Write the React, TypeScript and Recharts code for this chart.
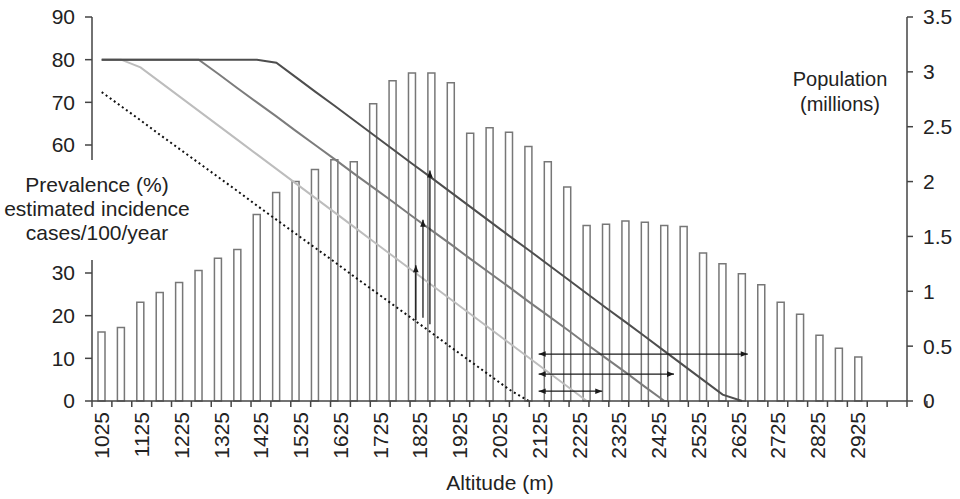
import React from "react";
import {
  ComposedChart,
  Bar,
  Line,
  XAxis,
  YAxis,
  ReferenceLine,
} from "recharts";

// altitude classes (m), 50 m wide
const altitudes = [
  1025, 1075, 1125, 1175, 1225, 1275, 1325, 1375, 1425, 1475, 1525, 1575,
  1625, 1675, 1725, 1775, 1825, 1875, 1925, 1975, 2025, 2075, 2125, 2175,
  2225, 2275, 2325, 2375, 2425, 2475, 2525, 2575, 2625, 2675, 2725, 2775,
  2825, 2875, 2925, 2975, 3025, 3075,
];

// labels printed under the axis
const tickLabels = [
  1025, 1125, 1225, 1325, 1425, 1525, 1625, 1725, 1825, 1925, 2025, 2125,
  2225, 2325, 2425, 2525, 2625, 2725, 2825, 2925,
];

// population in millions (bars, right axis)
const population = [
  0.63, 0.67, 0.9, 0.99, 1.08, 1.19, 1.3, 1.38, 1.7, 1.9, 2.0, 2.11, 2.2, 2.18,
  2.71, 2.92, 2.99, 2.99, 2.9, 2.44, 2.49, 2.45, 2.32, 2.18, 1.95, 1.6, 1.61,
  1.64, 1.63, 1.6, 1.59, 1.35, 1.25, 1.16, 1.06, 0.9, 0.79, 0.6, 0.48, 0.4,
  null, null,
];

// prevalence curves (left axis)
const darkLine = [
  80, 80, 80, 80, 80, 80, 80, 80, 80, 79.3, 75.9, 72.5, 69.2, 65.8, 62.4, 59.0,
  55.6, 52.3, 48.9, 45.5, 42.1, 38.7, 35.4, 32.0, 28.6, 25.2, 21.8, 18.5, 15.1,
  11.7, 8.3, 4.9, 1.5, 0, null, null, null, null, null, null, null, null,
];
const midLine = [
  80, 80, 80, 80, 80, 80, 76.7, 73.3, 70.0, 66.7, 63.3, 60.0, 56.7, 53.3, 50.0,
  46.7, 43.3, 40.0, 36.7, 33.3, 30.0, 26.7, 23.3, 20.0, 16.7, 13.3, 10.0, 6.7,
  3.3, 0, null, null, null, null, null, null, null, null, null, null, null,
  null,
];
const lightLine = [
  80, 80, 78.2, 74.8, 71.4, 68.0, 64.6, 61.2, 57.8, 54.4, 51.0, 47.6, 44.2,
  40.8, 37.4, 34.0, 30.6, 27.2, 23.8, 20.4, 17.0, 13.6, 10.2, 6.8, 3.4, 0,
  null, null, null, null, null, null, null, null, null, null, null, null, null,
  null, null, null,
];
// estimated incidence (dotted)
const incidence = [
  72.4, 69.1, 65.8, 62.4, 59.1, 55.8, 52.5, 49.2, 45.8, 42.5, 39.2, 35.9, 32.6,
  29.2, 25.9, 22.6, 19.3, 16.0, 12.6, 9.3, 6.0, 2.7, 0, null, null, null, null,
  null, null, null, null, null, null, null, null, null, null, null, null, null,
  null, null,
];

const leftTicks = [0, 10, 20, 30, 60, 70, 80, 90];
const rightTicks = [0, 0.5, 1, 1.5, 2, 2.5, 3, 3.5];

// arrows, in class units along x (0..42) and prevalence units along y
const upArrows = [
  { x: 16.29, from: 19.0, to: 31.8 },
  { x: 16.65, from: 19.5, to: 42.5 },
  { x: 17.0, from: 18.0, to: 54.0 },
];
const spanArrows = [
  { y: 11.0, from: 22.47, to: 32.99 },
  { y: 6.3, from: 22.47, to: 29.28 },
  { y: 2.3, from: 22.47, to: 25.67 },
];

const data = altitudes.map((alt, i) => ({
  alt,
  pop: population[i],
  dark: darkLine[i],
  mid: midLine[i],
  light: lightLine[i],
  inc: incidence[i],
}));

const boundaryTicks = altitudes.map((_, i) => i).concat(altitudes.length);
const labelTicks = tickLabels.map((t) => altitudes.indexOf(t) + 0.5);
const gridTicks = [...boundaryTicks, ...labelTicks].sort((a, b) => a - b);

const AXIS = "#444";
const TEXT = "#222";
const TICK_FONT = 21;

function AltitudeTick(props: any) {
  const { x, y, payload } = props;
  const v = Number(payload?.value);
  if (!Number.isFinite(v) || v < 0 || v > altitudes.length) return null;
  if (Number.isInteger(v)) {
    return (
      <line x1={x} y1={y} x2={x} y2={y + 6} stroke={AXIS} strokeWidth={1.5} />
    );
  }
  const ty = y + 11;
  return (
    <text
      x={x}
      y={ty}
      transform={`rotate(-90 ${x} ${ty})`}
      textAnchor="end"
      dominantBaseline="central"
      fontSize={TICK_FONT}
      fill={TEXT}
    >
      {altitudes[Math.floor(v)]}
    </text>
  );
}

function arrowShape(twoHeads: boolean) {
  return (props: any) => {
    const { x1, y1, x2, y2 } = props;
    const head = (tx: number, ty: number, fx: number, fy: number) => {
      const a = Math.atan2(ty - fy, tx - fx);
      const len = 7;
      const half = 2.8;
      const bx = tx - len * Math.cos(a);
      const by = ty - len * Math.sin(a);
      const px = -Math.sin(a) * half;
      const py = Math.cos(a) * half;
      return (
        <polygon
          points={`${tx},${ty} ${bx + px},${by + py} ${bx - px},${by - py}`}
          fill="#1a1a1a"
        />
      );
    };
    return (
      <g>
        <line x1={x1} y1={y1} x2={x2} y2={y2} stroke="#1a1a1a" strokeWidth={1.3} />
        {head(x2, y2, x1, y1)}
        {twoHeads && head(x1, y1, x2, y2)}
      </g>
    );
  };
}

export default function App() {
  return (
    <div
      style={{
        position: "absolute",
        left: 0,
        top: 0,
        width: 960,
        height: 499,
        background: "#fff",
        fontFamily: '"Liberation Sans", Arial, sans-serif',
        color: TEXT,
      }}
    >
      <ComposedChart
        width={960}
        height={499}
        data={data}
        margin={{ top: 17, right: 0, bottom: 0, left: 0 }}
      >
        <XAxis
          xAxisId="grid"
          type="number"
          domain={[0, altitudes.length]}
          allowDataOverflow
          ticks={gridTicks}
          interval={0}
          height={98}
          tickLine={false}
          tickSize={0}
          tickMargin={0}
          axisLine={{ stroke: AXIS, strokeWidth: 1.5 }}
          tick={<AltitudeTick />}
        />
        <XAxis xAxisId="cat" dataKey="alt" hide height={0} />
        <YAxis
          yAxisId="left"
          width={92}
          domain={[0, 90]}
          ticks={leftTicks}
          interval={0}
          tickSize={7}
          tickMargin={10}
          axisLine={{ stroke: AXIS, strokeWidth: 1.5, strokeDasharray: "143 100 300" }}
          tickLine={{ stroke: AXIS, strokeWidth: 1.5 }}
          tick={{ fontSize: TICK_FONT, fill: TEXT }}
        />
        <YAxis
          yAxisId="right"
          orientation="right"
          width={53}
          domain={[0, 3.5]}
          ticks={rightTicks}
          interval={0}
          tickSize={6}
          tickMargin={10}
          axisLine={{ stroke: AXIS, strokeWidth: 1.5 }}
          tickLine={{ stroke: AXIS, strokeWidth: 1.5 }}
          tick={{ fontSize: TICK_FONT, fill: TEXT, textAnchor: "start" }}
        />
        <Bar
          xAxisId="cat"
          yAxisId="right"
          dataKey="pop"
          barSize={7}
          fill="#fff"
          stroke="#777"
          strokeWidth={1.5}
          isAnimationActive={false}
        />
        <Line
          xAxisId="cat"
          yAxisId="left"
          dataKey="light"
          stroke="#bdbdbd"
          strokeWidth={2}
          dot={false}
          type="linear"
          isAnimationActive={false}
        />
        <Line
          xAxisId="cat"
          yAxisId="left"
          dataKey="mid"
          stroke="#7c7c7c"
          strokeWidth={2}
          dot={false}
          type="linear"
          isAnimationActive={false}
        />
        <Line
          xAxisId="cat"
          yAxisId="left"
          dataKey="dark"
          stroke="#4e4e4e"
          strokeWidth={2}
          dot={false}
          type="linear"
          isAnimationActive={false}
        />
        <Line
          xAxisId="cat"
          yAxisId="left"
          dataKey="inc"
          stroke="#111"
          strokeWidth={2}
          strokeDasharray="2 3"
          dot={false}
          type="linear"
          isAnimationActive={false}
        />
        {upArrows.map((a, i) => (
          <ReferenceLine
            key={`up${i}`}
            xAxisId="grid"
            yAxisId="left"
            ifOverflow="visible"
            segment={[
              { x: a.x, y: a.from },
              { x: a.x, y: a.to },
            ]}
            shape={arrowShape(false)}
          />
        ))}
        {spanArrows.map((a, i) => (
          <ReferenceLine
            key={`span${i}`}
            xAxisId="grid"
            yAxisId="left"
            ifOverflow="visible"
            segment={[
              { x: a.from, y: a.y },
              { x: a.to, y: a.y },
            ]}
            shape={arrowShape(true)}
          />
        ))}
      </ComposedChart>
      <div
        style={{
          position: "absolute",
          left: -3,
          top: 173,
          width: 200,
          textAlign: "center",
          fontSize: 21,
          lineHeight: "24px",
        }}
      >
        Prevalence (%)
        <br />
        estimated incidence
        <br />
        cases/100/year
      </div>
      <div
        style={{
          position: "absolute",
          left: 760,
          top: 67,
          width: 160,
          textAlign: "center",
          fontSize: 20,
          lineHeight: "25px",
        }}
      >
        Population
        <br />
        (millions)
      </div>
      <div
        style={{
          position: "absolute",
          left: 400,
          top: 471,
          width: 200,
          textAlign: "center",
          fontSize: 21,
          lineHeight: "24px",
        }}
      >
        Altitude (m)
      </div>
    </div>
  );
}
